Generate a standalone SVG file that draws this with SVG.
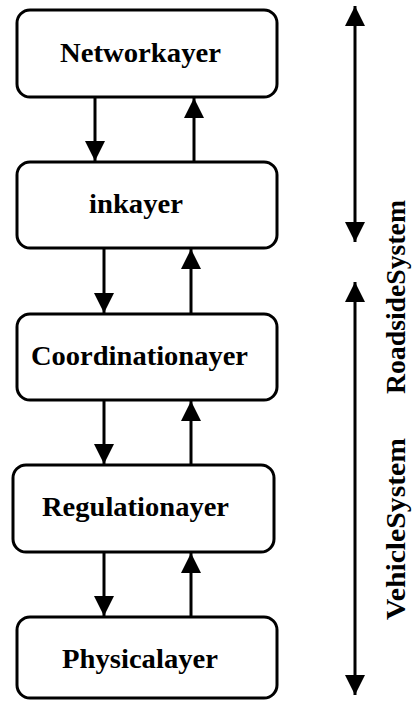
<svg xmlns="http://www.w3.org/2000/svg" width="413" height="704" viewBox="0 0 413 704">
  <style>
    .box { fill: #fff; stroke: #000; stroke-width: 3; }
    .lbl { font-family: "Liberation Serif", "Times New Roman", serif; font-weight: bold; font-size: 27.5px; fill: #000; }
    .side { font-family: "Liberation Serif", "Times New Roman", serif; font-weight: bold; font-size: 28px; fill: #000; }
    .wire { stroke: #000; stroke-width: 3; fill: none; }
  </style>
  <defs>
    <marker id="head" viewBox="0 0 20 20" refX="20" refY="10" markerWidth="20" markerHeight="20" markerUnits="userSpaceOnUse" orient="auto-start-reverse">
      <path d="M0,0 L20,10 L0,20 Z" fill="#000"/>
    </marker>
  </defs>
  <rect width="413" height="704" fill="#fff"/>

  <g id="connectors">
    <line class="wire" x1="95" y1="97" x2="95" y2="161" marker-end="url(#head)"/>
    <line class="wire" x1="194" y1="162" x2="194" y2="98" marker-end="url(#head)"/>
    <line class="wire" x1="104" y1="248" x2="104" y2="313" marker-end="url(#head)"/>
    <line class="wire" x1="191" y1="314" x2="191" y2="249" marker-end="url(#head)"/>
    <line class="wire" x1="104" y1="400" x2="104" y2="464" marker-end="url(#head)"/>
    <line class="wire" x1="191" y1="465" x2="191" y2="401" marker-end="url(#head)"/>
    <line class="wire" x1="104" y1="552" x2="104" y2="616" marker-end="url(#head)"/>
    <line class="wire" x1="191" y1="617" x2="191" y2="553" marker-end="url(#head)"/>
    <line class="wire" x1="355" y1="6" x2="355" y2="242" marker-start="url(#head)" marker-end="url(#head)"/>
    <line class="wire" x1="355" y1="282" x2="355" y2="695" marker-start="url(#head)" marker-end="url(#head)"/>
  </g>

  <g id="network">
    <rect class="box" x="17" y="10" width="260" height="87" rx="13"/>
    <text class="lbl" x="60" y="62" textLength="161" lengthAdjust="spacingAndGlyphs">Networkayer</text>
  </g>
  <g id="link">
    <rect class="box" x="17" y="162" width="260" height="86" rx="13"/>
    <text class="lbl" x="89" y="213" textLength="94" lengthAdjust="spacingAndGlyphs">inkayer</text>
  </g>
  <g id="coordination">
    <rect class="box" x="17" y="314" width="260" height="86" rx="13"/>
    <text class="lbl" x="31" y="365" textLength="217" lengthAdjust="spacingAndGlyphs">Coordinationayer</text>
  </g>
  <g id="regulation">
    <rect class="box" x="13" y="465" width="261" height="87" rx="13"/>
    <text class="lbl" x="42" y="516" textLength="187" lengthAdjust="spacingAndGlyphs">Regulationayer</text>
  </g>
  <g id="physical">
    <rect class="box" x="17" y="617" width="260" height="81" rx="13"/>
    <text class="lbl" x="62" y="668" textLength="156" lengthAdjust="spacingAndGlyphs">Physicalayer</text>
  </g>

  <g id="roadside">
    <text class="side" transform="translate(405,394) rotate(-90)" textLength="194" lengthAdjust="spacingAndGlyphs">RoadsideSystem</text>
  </g>
  <g id="vehicle">
    <text class="side" transform="translate(405,620) rotate(-90)" textLength="182" lengthAdjust="spacingAndGlyphs">VehicleSystem</text>
  </g>
</svg>
